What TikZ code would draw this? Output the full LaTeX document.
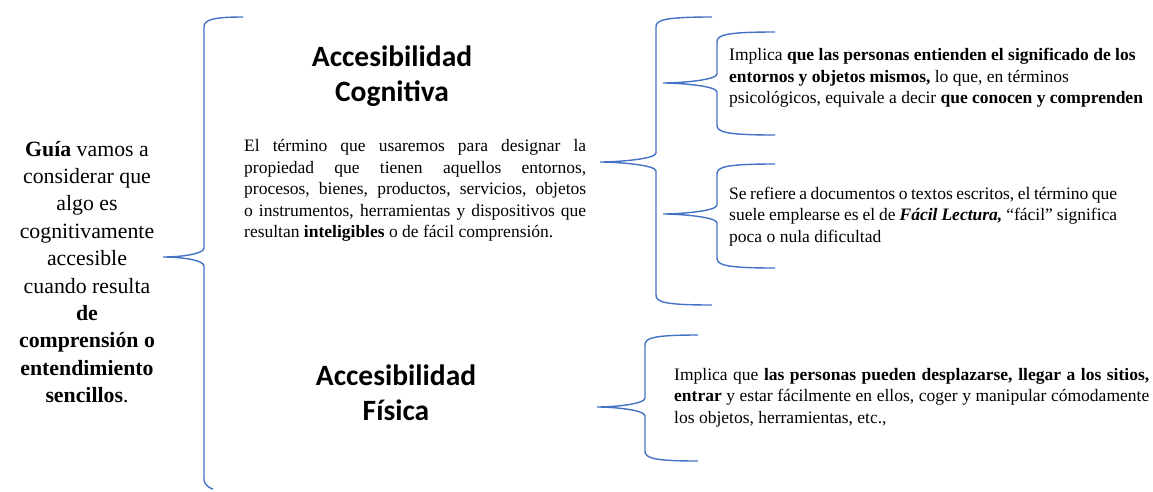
\documentclass[tikz,border=0pt]{standalone}
\usepackage{fontspec}
\setmainfont{Liberation Serif}
\newfontfamily\headfont{Carlito}
\definecolor{braceblue}{RGB}{68,114,196}
\newcommand{\jline}[2]{\makebox[#1][s]{#2}}
\newcommand{\drawbrace}[7]{%
  \draw[bracestyle] (#1,#2) .. controls (#3+8,#2) and (#3,#2+3) .. (#3,#2+10)
    -- (#3,#5-9) .. controls (#3,#5-3) and (#4+18,#5) .. (#4,#5)
    .. controls (#4+18,#5) and (#3,#5+3) .. (#3,#5+9)
    -- (#3,#7-10) .. controls (#3,#7-3) and (#3+8,#7) .. (#6,#7);}
\tikzset{
  bracestyle/.style={draw=braceblue, line width=1.4pt},
  bodytext/.style={font=\rmfamily\fontsize{17.5}{21.6}\selectfont, inner sep=0pt, align=left, anchor=west},
  headtext/.style={font=\headfont\bfseries\fontsize{29.5}{35}\selectfont, align=center, inner sep=0pt},
  guidetext/.style={font=\rmfamily\fontsize{21.8}{27.4}\selectfont, align=center, inner sep=0pt}
}
\begin{document}
\begin{tikzpicture}[x=1pt,y=-1pt]
\useasboundingbox (0,0) rectangle (1153,491);
\fill[white] (0,0) rectangle (1153,491);

% braces
\drawbrace{243}{17}{204}{163}{257}{213}{489}
\drawbrace{712}{17}{656}{600}{162}{712}{305}
\drawbrace{775}{32}{717}{663}{83}{775}{135}
\drawbrace{775}{164}{717}{663}{214}{775}{268}
\drawbrace{698}{335}{645}{597}{407}{698}{461}

% left guide text
\node[guidetext] (guide) at (87,272) {\textbf{Guía} vamos a\\considerar que\\algo es\\cognitivamente\\accesible\\cuando resulta\\\textbf{de}\\\textbf{comprensión o}\\\textbf{entendimiento}\\\textbf{sencillos}.};

% headings
\node[headtext] (hcog) at (392,76.5) {Accesibilidad\\Cognitiva};
\node[headtext] (hfis) at (396,393) {Accesibilidad\\Física};

% definition paragraph
\node[bodytext] (def) at (244,190.5) {\jline{342pt}{El término que usaremos para designar la}\\
\jline{342pt}{propiedad que tienen aquellos entornos,}\\
\jline{342pt}{procesos, bienes, productos, servicios, objetos}\\
\jline{342pt}{o instrumentos, herramientas y dispositivos que}\\
resultan \textbf{inteligibles} o de fácil comprensión.};

% text A
\node[bodytext] (ta) at (729,78) {Implica \textbf{que las personas entienden el significado de los}\\
\textbf{entornos y objetos mismos,} lo que, en términos\\
psicológicos, equivale a decir \textbf{que conocen y comprenden}};

% text B
\node[bodytext] (tb) at (729,216.5) {\jline{388pt}{Se refiere a documentos o textos escritos, el término que}\\
\jline{388pt}{suele emplearse es el de \textbf{\textit{Fácil Lectura,}} “fácil” significa}\\
poca o nula dificultad};

% text C
\node[bodytext] (tc) at (674,397.5) {\jline{475pt}{Implica que \textbf{las personas pueden desplazarse, llegar a los sitios,}}\\
\jline{475pt}{\textbf{entrar} y estar fácilmente en ellos, coger y manipular cómodamente}\\
los objetos, herramientas, etc.,};
\end{tikzpicture}
\end{document}
